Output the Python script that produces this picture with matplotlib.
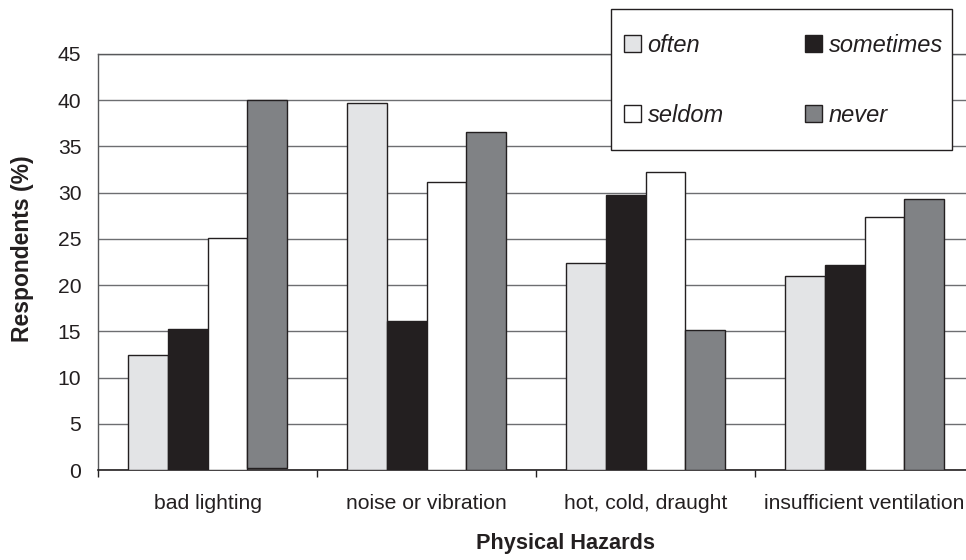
import matplotlib
matplotlib.use("Agg")
import matplotlib.pyplot as plt
from matplotlib.patches import Rectangle
import numpy as np

categories = ["bad lighting", "noise or vibration", "hot, cold, draught", "insufficient ventilation"]
series_names = ["often", "sometimes", "seldom", "never"]
often = [12.4, 39.7, 22.4, 21.0]
sometimes = [15.3, 16.1, 29.7, 22.2]
seldom = [25.1, 31.1, 32.2, 27.4]
never = [40.0, 36.6, 15.1, 29.35]
never_base = [0.25, 0.0, 0.0, 0.0]
yticks = [0, 5, 10, 15, 20, 25, 30, 35, 40, 45]

colors = ["#e3e4e6", "#231f20", "#ffffff", "#808285"]
edge = "#231f20"

plt.rcParams['font.family'] = ['Liberation Sans', 'DejaVu Sans']

W, H = 966, 560
fig = plt.figure(figsize=(W / 100, H / 100), dpi=100)
ax = fig.add_axes([98 / W, (H - 470) / H, 876 / W, 416 / H])

x = np.arange(len(categories))
bw = 1 / 5.5
values = [often, sometimes, seldom, never]
bottoms = [[0] * 4, [0] * 4, [0] * 4, never_base]
handles = []
for i, (vals, name) in enumerate(zip(values, series_names)):
    b = ax.bar(x + (i - 1.5) * bw, np.array(vals) - np.array(bottoms[i]), bw,
               bottom=bottoms[i], color=colors[i], edgecolor=edge,
               linewidth=1.0, label=name, zorder=3)
    handles.append(b)

ax.set_xlim(-0.5, len(categories) - 0.5)
ax.set_ylim(0, 45)
ax.set_yticks(yticks)
ax.set_yticklabels([str(t) for t in yticks])
ax.yaxis.grid(True, color="#6d6e71", linewidth=1.0, zorder=0)
ax.set_axisbelow(True)

ax.set_xticks(x)
ax.set_xticklabels(categories)
ax.set_xticks(np.arange(len(categories) + 1) - 0.5, minor=True)
ax.tick_params(axis="x", which="major", length=0, pad=17, labelsize=15.2, colors="#231f20")
ax.tick_params(axis="x", which="minor", length=5, width=1.0, direction="out", color="#231f20")
ax.tick_params(axis="y", length=0, pad=12, labelsize=15.2, colors="#231f20")

for s in ["left", "top", "right"]:
    ax.spines[s].set_color("#58595b")
    ax.spines[s].set_linewidth(1.0)
ax.spines["bottom"].set_color("#231f20")
ax.spines["bottom"].set_linewidth(1.2)

ax.set_ylabel("Respondents (%)", fontsize=16.5, fontweight="bold", color="#231f20")
ax.yaxis.set_label_coords((22.5 - 98) / 876, (470 - 249) / 416)
ax.yaxis.label.set_va("center")
ax.set_xlabel("Physical Hazards", fontsize=15.7, fontweight="bold", color="#231f20")
ax.xaxis.set_label_coords((565 - 98) / 876, (470 - 543) / 416)
ax.xaxis.label.set_va("center")

# legend frame (drawn separately so its padding can differ per side)
frame = Rectangle((611 / W, 1 - 150 / H), 341 / W, 141 / H,
                  transform=fig.transFigure, facecolor="white",
                  edgecolor="#231f20", linewidth=1.0, zorder=4)
fig.patches.append(frame)

# legend fills column-wise: order so rows read often/sometimes, seldom/never
order = [0, 2, 1, 3]
leg = fig.legend(handles=[handles[k] for k in order],
                 labels=[series_names[k] for k in order], ncol=2,
                 loc="upper left", bbox_to_anchor=(624 / W, 1 - 34 / H),
                 bbox_transform=fig.transFigure,
                 prop={"style": "italic", "size": 17},
                 handlelength=0.7, handleheight=0.7, handletextpad=0.3,
                 columnspacing=3.45, labelspacing=1.97, borderpad=0,
                 borderaxespad=0, frameon=False)
leg.set_zorder(5)
for t in leg.get_texts():
    t.set_color("#231f20")

fig.savefig("out.png", dpi=100, facecolor="white")
